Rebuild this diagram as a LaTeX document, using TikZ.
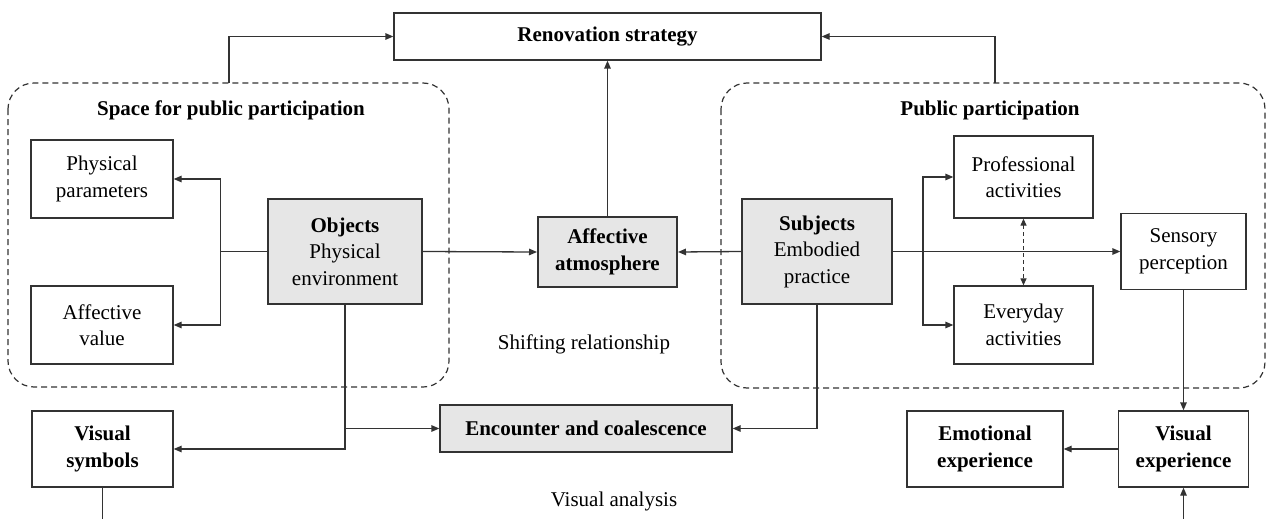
\documentclass[tikz,border=0pt]{standalone}
\usepackage{fontspec}
\setmainfont{Liberation Serif}
\usetikzlibrary{arrows.meta}
\definecolor{ln}{HTML}{333333}
\definecolor{gfill}{HTML}{E6E6E6}
\tikzset{
  box/.style={draw=ln, line width=1.3pt, inner sep=0pt, align=center, font=\fontsize{21}{26.5}\selectfont},
  gbox/.style={box, fill=gfill},
  arr/.style={draw=ln, line width=1.3pt, -{Triangle[length=8pt,width=6.5pt]}},
  ln/.style={draw=ln, line width=1.3pt},
  grp/.style={draw=ln, line width=1.2pt, dash pattern=on 6pt off 4pt, rounded corners=26pt},
  ttl/.style={font=\fontsize{21}{25}\selectfont\bfseries},
  lbl/.style={font=\fontsize{21}{25}\selectfont}
}
\begin{document}
\begin{tikzpicture}[x=1pt,y=-1pt]
\useasboundingbox (0,0) rectangle (1266,519);
% groups
\draw[grp] (8,83) rectangle (449,387);
\draw[grp] (721,83) rectangle (1265,388);
\node[ttl] (t1) at (231,110) {Space for public participation};
\node[ttl] (t2) at (990,110) {Public participation};
% nodes
\node[box, minimum width=427pt, minimum height=47pt] (ren) at (607.5,36.5) {\bfseries Renovation strategy};
\node[box, minimum width=142pt, minimum height=78pt] (pp) at (102,179) {Physical\\parameters};
\node[box, minimum width=142pt, minimum height=78pt] (av) at (102,325) {Affective\\value};
\node[gbox, minimum width=154pt, minimum height=105pt] (obj) at (345,251.5) {\textbf{Objects}\\Physical\\environment};
\node[gbox, line width=2pt, minimum width=139pt, minimum height=70pt] (aa) at (607.5,252) {\bfseries Affective\\\bfseries atmosphere};
\node[gbox, minimum width=150pt, minimum height=105pt] (subj) at (817,251.5) {\textbf{Subjects}\\Embodied\\practice};
\node[box, minimum width=139pt, minimum height=82pt] (prof) at (1023.5,177) {Professional\\activities};
\node[box, minimum width=139pt, minimum height=78pt] (every) at (1023.5,325) {Everyday\\activities};
\node[box, minimum width=125pt, minimum height=76pt] (sens) at (1183.5,251.5) {Sensory\\perception};
\node[gbox, minimum width=292pt, minimum height=47pt] (enc) at (586,428.5) {\bfseries Encounter and coalescence};
\node[box, minimum width=141pt, minimum height=76pt] (vs) at (102.5,449) {\bfseries Visual\\\bfseries symbols};
\node[box, minimum width=156pt, minimum height=76pt] (emo) at (985,449) {\bfseries Emotional\\\bfseries experience};
\node[box, minimum width=130pt, minimum height=76pt] (vexp) at (1183.5,449) {\bfseries Visual\\\bfseries experience};
\node[lbl] (shift) at (584,344) {Shifting relationship};
\node[lbl] (va) at (614,501) {Visual analysis};
% coordinates
\coordinate (lt) at (229,83);
\coordinate (rt) at (995,83);
\coordinate (vsb) at (102.5,519);
\coordinate (veb) at (1183.5,519);
% connectors
\draw[arr] (lt) |- (ren.west);
\draw[arr] (rt) |- (ren.east);
\draw[arr] (aa.north) -- (ren.south);
\draw[ln] (obj.west) -- ++(-47,0) coordinate (j1);
\draw[arr] (j1) |- (pp.east);
\draw[arr] (j1) |- (av.east);
\draw[arr] (obj.east) -- (aa.west);
\draw[arr] (subj.west) -- (aa.east);
\draw[arr] (subj.east) -- (subj.east -| sens.west);
\coordinate (j2) at (923,251.5);
\draw[arr] (j2) |- (prof.west);
\draw[arr] (j2) |- (every.west);
\draw[draw=ln, line width=1.2pt, dash pattern=on 4pt off 3pt, {Triangle[length=7pt,width=6pt]}-{Triangle[length=7pt,width=6pt]}] (prof.south) -- (every.north);
\draw[arr] (sens.south) -- (vexp.north);
\draw[arr] (vexp.west) -- (emo.east);
\draw[arr] (veb) -- (vexp.south);
\draw[arr] (obj.south) |- (vs.east);
\draw[arr] (obj.south) |- (enc.west);
\draw[arr] (subj.south) |- (enc.east);
\draw[ln] (vs.south) -- (vsb);
\end{tikzpicture}
\end{document}
